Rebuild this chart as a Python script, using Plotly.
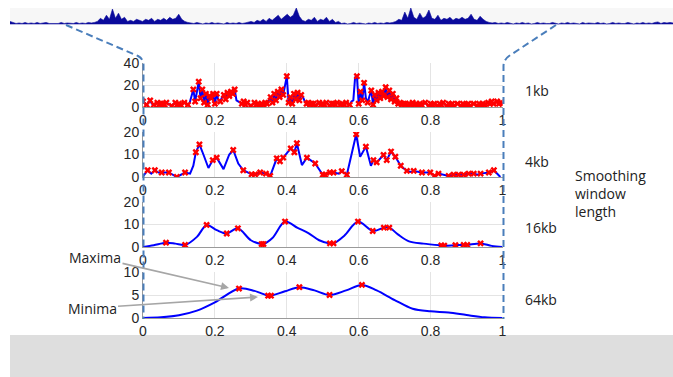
import plotly.graph_objects as go

W, H = 673, 377

# ---------------- data ----------------
# genome-wide signal (top strip), one value per 3 px column, heights in pixel-like units
STRIP = [3,2,1,1.5,1,2,1,1.5,1,2, 1,1.5,2,1,1,1.5,1,2,1,1.5, 1,1,2,1,1.5,1,2,1.5,2,
         3,6,4,9,5,15,6,11,5,7,3,4,3,5,4,3,5,4,6,3,5,4,6,4,7,5,6,10,5,3,2,
         1.5,1,2,1,0.5,1.5,1,2,1,1.5,1,0.5,2,1,1.5,1,2,1,1.5,2,
         3,2,4,3,5,3,6,4,7,9,5,8,10,7,9,16,8,4,3,5,4,7,3,5,4,7,3,5,2,3,
         1,1.5,0.5,1,2,1,1.5,1,0.5,1.5,1,2,1,1.5,1,2,1.5,2,
         3,5,4,12,6,16,7,5,11,6,8,14,6,5,9,4,6,5,7,4,6,5,7,5,6,10,5,4,8,5,3,2,
         1.5,2,1,1.5,1,2,1,0.5,1.5,1, 2,1,1.5,0.5,1,2,1,1.5,1,1, 2,1,0.5,1.5,1,2,1,1.5,1,0.5,
         2,1,1.5,1,1,2,1,1.5,0.5,1, 2,1,1.5,1,1,2,1,0.5,1.5,1, 2,1,1.5,1,2,2.5,1,2,1.5,2, 1.5]

# 1kb smoothing (evenly sampled over 0..1)
Y1 = [5,3,2,4,6,3,2,3,4,2,3,3,2,4,3,2,1,3,4,2,3,2,3,4,3,2,
      4,9,16,5,15,23,8,16,4,12,2,10,8,12,3,12,6,5,9,11,7,13,10,14,12,16,6,5,4,
      3,5,2,4,3,1,3,4,2,3,1,3,2,4,3,
      6,9,4,12,6,14,9,16,11,18,28,4,9,3,12,7,13,6,11,9,5,3,
      4,2,3,3,1,3,4,2,3,2,4,3,1,3,3,2,4,3,2,3,2,4,3,2,5,
      6,27,28,3,14,6,22,8,4,10,15,2,11,6,13,8,14,10,18,9,15,7,12,5,8,3,
      4,2,3,3,1,3,2,4,2,3,1,3,2,3,4,2,1,3,2,3,2,1,3,2,4,2,1,3,2,3,1,2,3,2,1,3,2,2,3,1,2,3,2,1,3,2,3,2,3,
      4,3,5,3,4,5,3,4,3]

# 4kb smoothing
X2 = [0.0,0.013,0.023,0.033,0.043,0.052,0.062,0.072,0.094,0.117,0.131,0.14,0.147,0.157,0.168,0.182,
      0.194,0.205,0.224,0.24,0.251,0.265,0.279,0.29,0.302,0.312,0.326,0.342,0.354,0.372,0.381,0.39,
      0.411,0.421,0.428,0.442,0.456,0.479,0.5,0.507,0.52,0.53,0.545,0.553,0.567,0.593,0.604,0.62,
      0.634,0.641,0.65,0.669,0.678,0.69,0.702,0.717,0.734,0.745,0.753,0.776,0.79,0.799,0.811,0.822,
      0.85,0.864,0.878,0.892,0.906,0.92,0.93,0.939,0.962,0.976,0.994]
Y2 = [0.3,3,1.5,3,2,2,1.8,2,0,2,1.5,5,11,14.5,10,4,
      7.5,8.6,3.5,10,12,6,3,2,1.2,1.2,2,1.5,0.5,8.3,7,8.6,
      12.7,11,15,5.3,8.6,6,1,1,2,2,1.5,2.6,1,19,9,13.5,
      5,7.5,6.5,9.8,7.5,11.3,9,5,2.7,2.2,2.7,2,1.8,2,0.5,1.5,
      0.5,1,1,1,1.5,1.5,1.0,1.5,2,3,0]
M2 = [0,1,0,1,0,1,0,1,1,1,0,0,1,1,0,0,
      1,1,0,0,1,0,1,0,1,1,1,1,1,1,1,1,
      1,1,1,0,1,1,1,1,1,1,0,1,1,1,0,1,
      0,1,1,1,1,1,1,1,1,0,1,1,0,1,1,1,
      1,1,1,1,1,1,0,1,1,1,0]

# 16kb smoothing
X3 = [0,0.03,0.064,0.09,0.117,0.15,0.177,0.205,0.233,0.264,0.30,0.33,0.335,0.36,0.395,0.43,
      0.46,0.49,0.52,0.53,0.56,0.598,0.639,0.67,0.685,0.71,0.74,0.78,0.83,0.838,0.869,0.892,
      0.902,0.939,0.97,1.0]
Y3 = [0,0.8,1.9,1.5,0.9,4.5,9.8,7.5,6,8.3,3,1.3,1.3,4,11.3,8.5,
      6.2,3,1.6,1.6,5,11.3,7.1,8.6,8.6,5.5,2.5,1.5,0.7,0.6,0.8,0.9,
      0.9,1.6,0.5,0]
M3 = [0,0,1,0,1,0,1,0,1,1,0,1,1,0,1,0,
      0,0,1,1,0,1,1,1,1,0,0,0,1,1,1,1,
      1,1,0,0]

# 64kb smoothing
X4 = [0,0.05,0.1,0.15,0.2,0.267,0.31,0.348,0.356,0.395,0.435,0.477,0.519,0.565,0.609,0.65,
      0.7,0.75,0.8,0.85,0.9,0.95,1.0]
Y4 = [0,0.15,0.6,1.6,3.4,6.4,5.9,4.85,4.85,5.8,6.7,6.0,5.0,6.0,7.2,6.0,
      3.9,2.0,1.45,1.2,0.65,0.15,0]
M4 = [0,0,0,0,0,1,0,1,1,0,1,0,1,0,1,0,0,0,0,0,0,0,0]

XTICKS = [0, 0.2, 0.4, 0.6, 0.8, 1]
XTICKTEXT = ["0", "0.2", "0.4", "0.6", "0.8", "1"]
YMAX = [40, 20, 20, 10]
YTICKS = [[0, 20, 40], [0, 10, 20], [0, 10, 20], [0, 5, 10]]
WINDOW_LABELS = ["1kb", "4kb", "16kb", "64kb"]

# ---------------- helpers ----------------
def px(x):
    return x / W

def py(y):
    return 1 - y / H

BLUE = "#0000ff"
RED = "#ff0000"
DASH = "#4a7ebb"
TXT = "#222222"

# pixel rows (top, bottom) of the 4 panels
ROWS = [(63, 107), (132, 177), (202, 247), (272, 318)]
LABEL_Y = [90, 161, 228, 299]
XL, XR = 143, 502.5

fig = go.Figure()

n1 = len(Y1)
X1 = [i / (n1 - 1) for i in range(n1)]

def extrema_flags(y):
    f = []
    for i in range(len(y)):
        if i == 0 or i == len(y) - 1:
            f.append(1)
        else:
            f.append(1 if (y[i] >= y[i-1] and y[i] >= y[i+1]) or (y[i] <= y[i-1] and y[i] <= y[i+1]) else 0)
    return f

M1 = extrema_flags(Y1)

series = [(X1, Y1, M1, "linear"), (X2, Y2, M2, "linear"), (X3, Y3, M3, "spline"), (X4, Y4, M4, "spline")]

for k, (xs, ys, ms, shape) in enumerate(series):
    ax = "" if k == 0 else str(k + 1)
    line = dict(color=BLUE, width=2, shape=shape)
    if shape == "spline":
        line["smoothing"] = 0.9
    fig.add_trace(go.Scatter(x=xs, y=ys, mode="lines", line=line,
                             xaxis="x" + ax, yaxis="y" + ax, showlegend=False, hoverinfo="skip"))
    mx = [x for x, m in zip(xs, ms) if m]
    my = [y for y, m in zip(ys, ms) if m]
    fig.add_trace(go.Scatter(x=mx, y=my, mode="markers",
                             marker=dict(symbol="x", size=6, color=RED, line=dict(width=0)),
                             xaxis="x" + ax, yaxis="y" + ax, showlegend=False, hoverinfo="skip"))

# top strip
fig.add_trace(go.Scatter(x=list(range(len(STRIP))), y=STRIP, mode="lines", fill="tozeroy",
                         line=dict(color="#0a0a9c", width=0.6), fillcolor="#0a0a9c",
                         xaxis="x5", yaxis="y5", showlegend=False, hoverinfo="skip"))

layout = dict(
    width=W, height=H, margin=dict(l=0, r=0, t=0, b=0, autoexpand=False),
    paper_bgcolor="white", plot_bgcolor="rgba(0,0,0,0)",
    showlegend=False,
)

tickfont = dict(family="Liberation Sans, Arial, sans-serif", size=14, color="#262626")
for k in range(4):
    ax = "" if k == 0 else str(k + 1)
    top, bot = ROWS[k]
    layout["xaxis" + ax] = dict(domain=[px(XL), px(XR)], range=[0, 1], anchor="y" + ax,
                                tickvals=XTICKS, ticktext=XTICKTEXT, tickfont=tickfont,
                                showgrid=True, gridcolor="#e4e4e4", gridwidth=1,
                                zeroline=False, showline=True, linecolor="#9a9a9a", linewidth=1,
                                ticks="", automargin=False, fixedrange=True)
    layout["yaxis" + ax] = dict(domain=[py(bot), py(top)], range=[0, YMAX[k]], anchor="x" + ax,
                                tickvals=YTICKS[k], tickfont=tickfont,
                                showgrid=True, gridcolor="#e4e4e4", gridwidth=1,
                                zeroline=False, showline=True, linecolor="#9a9a9a", linewidth=1,
                                ticks="", automargin=False, fixedrange=True)

layout["xaxis5"] = dict(domain=[px(10), 1], range=[0, len(STRIP) - 1], anchor="y5",
                        visible=False, automargin=False, fixedrange=True)
layout["yaxis5"] = dict(domain=[py(24.5), py(8)], range=[0, 16], anchor="x5",
                        visible=False, automargin=False, fixedrange=True)

shapes = []
shapes.append(dict(type="rect", xref="paper", yref="paper", x0=px(10), x1=1, y0=py(25), y1=py(8),
                   fillcolor="#f7f7f7", line=dict(width=0), layer="below"))
shapes.append(dict(type="rect", xref="paper", yref="paper", x0=px(10), x1=1, y0=0, y1=py(335),
                   fillcolor="#dedede", line=dict(width=0), layer="below"))

def P(x, y):
    return f"{px(x):.5f},{py(y):.5f}"

left_path = f"M {P(66,25)} L {P(138,56)} Q {P(143.5,59)} {P(143.5,65)} L {P(143.5,319)}"
right_path = f"M {P(556,25)} L {P(509,56)} Q {P(503.5,60)} {P(503.5,66)} L {P(503.5,319)}"
for pth in (left_path, right_path):
    shapes.append(dict(type="path", xref="paper", yref="paper", path=pth,
                       line=dict(color=DASH, width=2, dash="7px,4px"), layer="above"))
layout["shapes"] = shapes

annotations = []
lab_font = dict(family="Open Sans, sans-serif", size=14, color=TXT)
for lbl, yy in zip(WINDOW_LABELS, LABEL_Y):
    annotations.append(dict(text=lbl, xref="paper", yref="paper", x=px(523), y=py(yy),
                            xanchor="left", yanchor="middle", showarrow=False, font=lab_font))
annotations.append(dict(text="Smoothing<br>window<br>length", xref="paper", yref="paper",
                        x=px(573), y=py(193), xanchor="left", yanchor="middle", align="left",
                        showarrow=False, font=lab_font))
annotations.append(dict(text="Maxima", xref="paper", yref="paper", x=px(229), y=py(288),
                        ax=95 - 229, ay=257 - 288, showarrow=True, arrowhead=2, arrowsize=1,
                        arrowwidth=1.6, arrowcolor="#a6a6a6", font=lab_font))
annotations.append(dict(text="Minima", xref="paper", yref="paper", x=px(258), y=py(297),
                        ax=92 - 258, ay=308 - 297, showarrow=True, arrowhead=2, arrowsize=1,
                        arrowwidth=1.6, arrowcolor="#a6a6a6", font=lab_font))
layout["annotations"] = annotations

fig.update_layout(**layout)
fig.write_html("out.html", config={"displayModeBar": False},
               post_script="document.body.style.margin='0px';document.body.style.overflow='hidden';")
